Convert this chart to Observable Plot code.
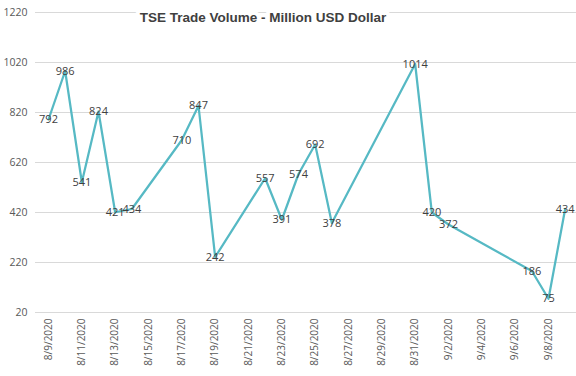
<!DOCTYPE html>
<html><head><meta charset="utf-8">
<script src="https://cdn.jsdelivr.net/npm/d3@7"></script>
<script src="https://cdn.jsdelivr.net/npm/@observablehq/plot@0.6"></script>
<style>html,body{margin:0;padding:0;background:#fff}</style>
</head><body><div id="chart"></div>
<script>
const title = "TSE Trade Volume - Million USD Dollar";
const dates = ["2020-08-09","2020-08-10","2020-08-11","2020-08-12","2020-08-13","2020-08-14",
  "2020-08-17","2020-08-18","2020-08-19","2020-08-22","2020-08-23","2020-08-24","2020-08-25",
  "2020-08-26","2020-08-31","2020-09-01","2020-09-02","2020-09-07","2020-09-08","2020-09-09"];
const volumes = [792,986,541,824,421,434,710,847,242,557,391,574,692,378,1014,420,372,186,75,434];
const yTicks = [20,220,420,620,820,1020,1220];
const xTickLabels = ["8/9/2020","8/11/2020","8/13/2020","8/15/2020","8/17/2020","8/19/2020",
  "8/21/2020","8/23/2020","8/25/2020","8/27/2020","8/29/2020","8/31/2020","9/2/2020",
  "9/4/2020","9/6/2020","9/8/2020"];
const DAY = 86400000;
const xDomain = [new Date(Date.UTC(2020,7,9) - 0.78*DAY), new Date(Date.UTC(2020,8,8) + 1.68*DAY)];

const parseMDY = s => { const [m,d,y] = s.split("/").map(Number); return new Date(Date.UTC(y,m-1,d)); };
const xTicks = xTickLabels.map(parseMDY);
const fmt = d => `${d.getUTCMonth()+1}/${d.getUTCDate()}/${d.getUTCFullYear()}`;
const data = dates.map((d,i) => ({date: new Date(d+"T00:00:00Z"), v: volumes[i]}));

const chart = Plot.plot({
  width: 576, height: 376,
  marginLeft: 35, marginRight: 0, marginTop: 12, marginBottom: 64,
  style: {fontFamily: "'Open Sans', sans-serif", fontSize: "11px", color: "#595959", background: "#fff"},
  x: {type: "utc", domain: xDomain},
  y: {domain: [20, 1220]},
  marks: [
    Plot.gridY(yTicks, {stroke: "#d9d9d9", strokeOpacity: 1, strokeWidth: 1}),
    Plot.axisY({ticks: yTicks, tickFormat: d => String(d), tickSize: 0, tickPadding: 8, label: null, fill: "#595959", fontSize: 10.5}),
    Plot.axisX({ticks: xTicks, tickFormat: fmt, tickRotate: -90, tickSize: 0, tickPadding: 6, label: null, fill: "#595959", fontSize: 10}),
    Plot.line(data, {x: "date", y: "v", stroke: "#56B9C4", strokeWidth: 2.25}),
    Plot.text(data, {x: "date", y: "v", text: d => String(d.v), fill: "#404040", fontSize: 11}),
    Plot.text([title], {frameAnchor: "top", lineAnchor: "top", dx: -43, dy: 0, fontSize: 13.5, fontWeight: "bold",
      fontFamily: "'Liberation Sans', Arial, sans-serif", fill: "#404040", stroke: "#fff", strokeWidth: 8})
  ]
});
document.getElementById("chart").appendChild(chart);
</script>
</body></html>
